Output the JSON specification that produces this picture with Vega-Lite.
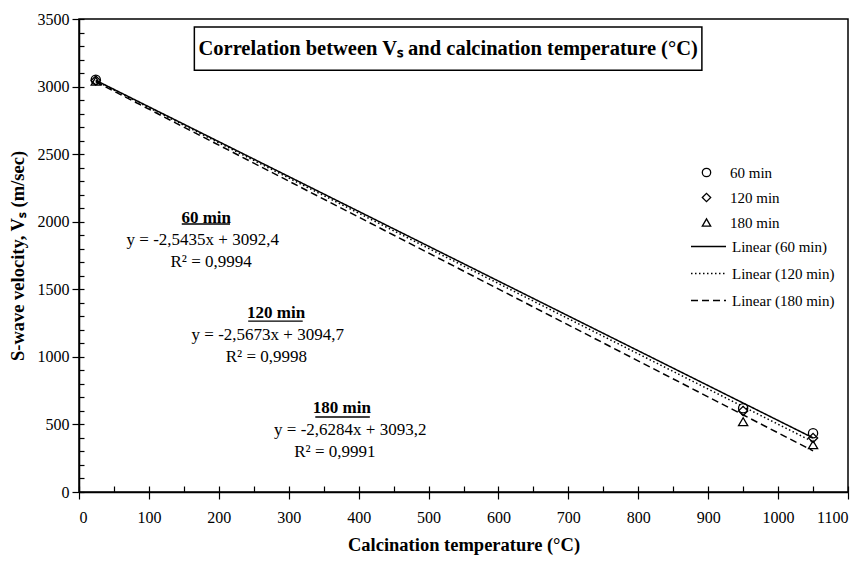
{
  "$schema": "https://vega.github.io/schema/vega-lite/v6.json",
  "width": 769,
  "height": 473,
  "autosize": {"type": "none"},
  "padding": {"left": 79, "top": 19, "right": 18, "bottom": 71},
  "background": "white",
  "config": {
    "view": {"stroke": "black", "strokeWidth": 1.5},
    "font": "Liberation Serif",
    "axis": {
      "domainColor": "black", "domainWidth": 1.5, "tickColor": "black", "tickWidth": 1.2,
      "labelColor": "black", "labelFont": "Liberation Serif", "labelFontSize": 16,
      "titleColor": "black", "titleFont": "Liberation Serif", "titleFontSize": 18.5, "titleFontWeight": "bold",
      "grid": false, "format": "d"
    },
    "legend": {
      "labelFont": "Liberation Serif", "labelFontSize": 15, "labelColor": "black"
    }
  },
  "datasets": {
    "obs": [
      {"temp": 24, "vs": 3050, "series": "60 min", "fit": "Linear (60 min)"},
      {"temp": 950, "vs": 620, "series": "60 min", "fit": "Linear (60 min)"},
      {"temp": 1050, "vs": 435, "series": "60 min", "fit": "Linear (60 min)"},
      {"temp": 24, "vs": 3045, "series": "120 min", "fit": "Linear (120 min)"},
      {"temp": 950, "vs": 600, "series": "120 min", "fit": "Linear (120 min)"},
      {"temp": 1050, "vs": 400, "series": "120 min", "fit": "Linear (120 min)"},
      {"temp": 24, "vs": 3040, "series": "180 min", "fit": "Linear (180 min)"},
      {"temp": 950, "vs": 520, "series": "180 min", "fit": "Linear (180 min)"},
      {"temp": 1050, "vs": 350, "series": "180 min", "fit": "Linear (180 min)"}
    ],
    "heads": [
      {"x": 182, "y": 2027, "t": "60 min"},
      {"x": 282, "y": 1324, "t": "120 min"},
      {"x": 376, "y": 621, "t": "180 min"}
    ],
    "eqs": [
      {"x": 177, "y": 1864, "t": "y = -2,5435x + 3092,4"},
      {"x": 189, "y": 1702, "t": "R² = 0,9994"},
      {"x": 270, "y": 1161, "t": "y = -2,5673x + 3094,7"},
      {"x": 268, "y": 999, "t": "R² = 0,9998"},
      {"x": 388, "y": 459, "t": "y = -2,6284x + 3093,2"},
      {"x": 366, "y": 296, "t": "R² = 0,9991"}
    ],
    "unders": [
      {"x": 147, "x2": 216, "y": 1983},
      {"x": 242, "x2": 320, "y": 1265},
      {"x": 338, "x2": 416, "y": 555}
    ],
    "tbox": [
      {"x": 165, "x2": 891, "y": 3440, "y2": 3120, "xc": 528, "yc": 3280, "t": "Correlation between Vₛ and calcination temperature (°C)"}
    ]
  },
  "layer": [
    {
      "data": {"name": "tbox"},
      "mark": {"type": "rect", "fill": "white", "stroke": "black", "strokeWidth": 1.5},
      "encoding": {
        "x": {"field": "x", "type": "quantitative", "scale": {"domain": [0, 1100]}, "axis": null},
        "x2": {"field": "x2"},
        "y": {"field": "y", "type": "quantitative", "scale": {"domain": [0, 3500]}, "axis": null},
        "y2": {"field": "y2"}
      }
    },
    {
      "data": {"name": "tbox"},
      "mark": {"type": "text", "font": "Liberation Serif", "fontSize": 20.5, "fontWeight": "bold", "color": "black", "align": "center", "baseline": "middle"},
      "encoding": {
        "x": {"field": "xc", "type": "quantitative", "axis": null},
        "y": {"field": "yc", "type": "quantitative", "axis": null},
        "text": {"field": "t"}
      }
    },
    {
      "data": {"name": "obs"},
      "mark": {"type": "point", "filled": false, "stroke": "black", "strokeWidth": 1.3, "opacity": 1, "size": 85},
      "encoding": {
        "x": {"field": "temp", "type": "quantitative", "title": "Calcination temperature (°C)",
          "axis": {"values": [0,100,200,300,400,500,600,700,800,900,1000,1100], "tickSize": 7, "labelPadding": 10, "titlePadding": 10, "orient": "bottom"}},
        "y": {"field": "vs", "type": "quantitative", "title": "S-wave velocity, Vₛ (m/sec)",
          "axis": {"values": [0,500,1000,1500,2000,2500,3000,3500], "tickSize": 7, "labelPadding": 3, "titlePadding": 10, "orient": "left"}},
        "shape": {"field": "series", "type": "nominal",
          "scale": {"domain": ["60 min", "120 min", "180 min"], "range": ["circle", "diamond", "triangle-up"]},
          "legend": {"title": null, "orient": "none", "legendX": 620, "legendY": 146, "symbolStrokeColor": "black", "symbolFillColor": "transparent", "symbolStrokeWidth": 1.3, "symbolSize": 70, "labelOffset": 16, "rowPadding": 9}}
      }
    },
    {
      "data": {"name": "obs"},
      "transform": [{"regression": "vs", "on": "temp", "groupby": ["fit"]}],
      "mark": {"type": "line", "color": "black", "strokeWidth": 1.5},
      "encoding": {
        "x": {"field": "temp", "type": "quantitative",
          "axis": {"orient": "bottom", "values": [0,50,100,150,200,250,300,350,400,450,500,550,600,650,700,750,800,850,900,950,1000,1050,1100], "tickSize": -6, "labels": false, "domain": false, "title": null}},
        "y": {"field": "vs", "type": "quantitative",
          "axis": {"orient": "left", "values": [0,100,200,300,400,500,600,700,800,900,1000,1100,1200,1300,1400,1500,1600,1700,1800,1900,2000,2100,2200,2300,2400,2500,2600,2700,2800,2900,3000,3100,3200,3300,3400,3500], "tickSize": -5, "labels": false, "domain": false, "title": null}},
        "strokeDash": {"field": "fit", "type": "nominal",
          "scale": {"domain": ["Linear (60 min)", "Linear (120 min)", "Linear (180 min)"], "range": [[1, 0], [1.5, 2.5], [7, 4]]},
          "legend": {"title": null, "orient": "none", "legendX": 611, "legendY": 209, "symbolType": "stroke", "symbolSize": 1225, "symbolStrokeColor": "black", "symbolStrokeWidth": 1.3, "labelOffset": 5, "rowPadding": -12}}
      }
    },
    {
      "data": {"name": "heads"},
      "mark": {"type": "text", "font": "Liberation Serif", "fontSize": 17, "fontWeight": "bold", "color": "black", "align": "center", "baseline": "middle"},
      "encoding": {
        "x": {"field": "x", "type": "quantitative", "axis": null},
        "y": {"field": "y", "type": "quantitative", "axis": null},
        "text": {"field": "t"}
      }
    },
    {
      "data": {"name": "unders"},
      "mark": {"type": "rule", "color": "black", "strokeWidth": 1.3},
      "encoding": {
        "x": {"field": "x", "type": "quantitative", "axis": null},
        "x2": {"field": "x2"},
        "y": {"field": "y", "type": "quantitative", "axis": null}
      }
    },
    {
      "data": {"name": "eqs"},
      "mark": {"type": "text", "font": "Liberation Serif", "fontSize": 17, "color": "black", "align": "center", "baseline": "middle"},
      "encoding": {
        "x": {"field": "x", "type": "quantitative", "axis": null},
        "y": {"field": "y", "type": "quantitative", "axis": null},
        "text": {"field": "t"}
      }
    }
  ],
  "resolve": {"axis": {"x": "independent", "y": "independent"}}
}
